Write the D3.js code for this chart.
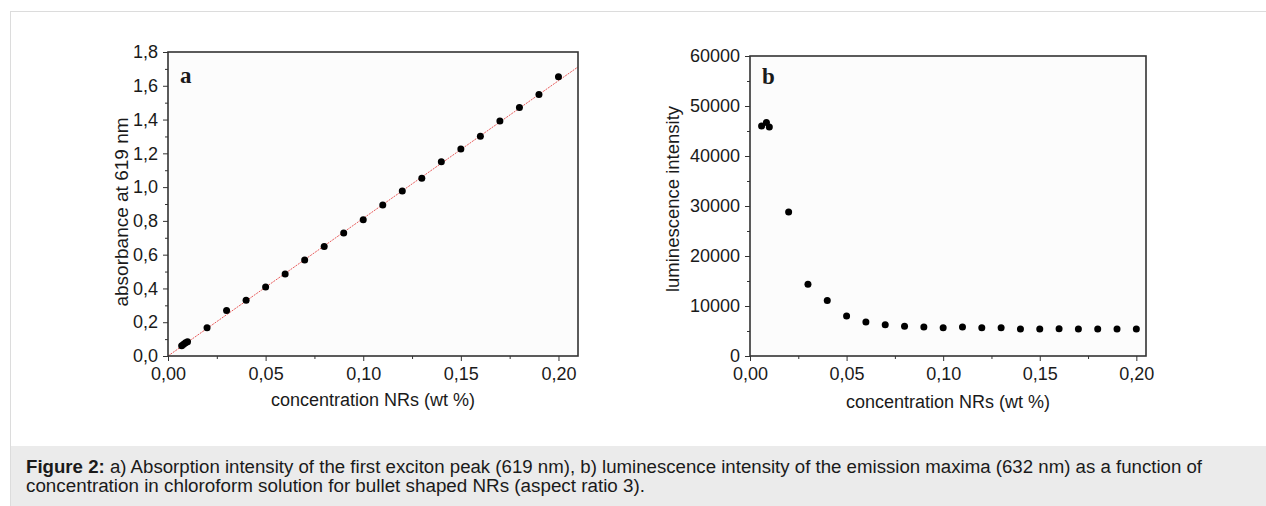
<!DOCTYPE html>
<html>
<head>
<meta charset="utf-8">
<script src="https://cdn.jsdelivr.net/npm/d3@7"></script>
<style>
  body { margin: 0; background: #fff; font-family: "Liberation Sans", Arial, sans-serif; }
  svg text { font-family: "Liberation Sans", Arial, sans-serif; fill: #1a1a1a; }
  .tick line { stroke: #333; }
</style>
</head>
<body>
<svg id="fig" width="1266" height="506"></svg>
<script>
// panel a: absorbance vs concentration
const concA = [0.007, 0.008, 0.009, 0.010, 0.02, 0.03, 0.04, 0.05, 0.06, 0.07, 0.08, 0.09, 0.10,
               0.11, 0.12, 0.13, 0.14, 0.15, 0.16, 0.17, 0.18, 0.19, 0.20];
const absorbance = [0.061, 0.07, 0.078, 0.085, 0.168, 0.27, 0.33, 0.408, 0.486, 0.568, 0.649, 0.728, 0.807,
                    0.894, 0.977, 1.052, 1.150, 1.226, 1.301, 1.391, 1.472, 1.549, 1.654];
const fitSlope = 8.15; // linear fit through origin

// panel b: luminescence vs concentration
const concB = [0.006, 0.0085, 0.010, 0.02, 0.03, 0.04, 0.05, 0.06, 0.07, 0.08, 0.09, 0.10,
               0.11, 0.12, 0.13, 0.14, 0.15, 0.16, 0.17, 0.18, 0.19, 0.20];
const luminescence = [46000, 46700, 45800, 28800, 14340, 11080, 8000, 6800, 6270, 5940, 5800, 5670,
                      5800, 5670, 5670, 5400, 5400, 5450, 5400, 5400, 5400, 5400];

const xTicks = [0, 0.05, 0.10, 0.15, 0.20];
const yTicksA = [0, 0.2, 0.4, 0.6, 0.8, 1.0, 1.2, 1.4, 1.6, 1.8];
const yTicksB = [0, 10000, 20000, 30000, 40000, 50000, 60000];

const captionBold = "Figure 2:";
const captionLines = [
  " a) Absorption intensity of the first exciton peak (619 nm), b) luminescence intensity of the emission maxima (632 nm) as a function of",
  "concentration in chloroform solution for bullet shaped NRs (aspect ratio 3)."
];

const svg = d3.select("#fig");

// page frame and caption band
svg.append("rect").attr("x", 10.5).attr("y", 11.5).attr("width", 1300).attr("height", 520)
  .attr("fill", "#fff").attr("stroke", "#dcdcdc");
svg.append("rect").attr("x", 11).attr("y", 446).attr("width", 1260).attr("height", 70)
  .attr("fill", "#ebebeb");

const cap = svg.append("text").attr("x", 26).attr("y", 473).style("font-size", "18px")
  .attr("textLength", 1176).attr("lengthAdjust", "spacingAndGlyphs");
cap.append("tspan").style("font-weight", "bold").text(captionBold);
cap.append("tspan").text(captionLines[0]);
svg.append("text").attr("x", 26).attr("y", 492).style("font-size", "18px")
  .attr("textLength", 619).attr("lengthAdjust", "spacingAndGlyphs")
  .text(captionLines[1]);

const comma = (f) => (d) => d3.format(f)(d).replace(".", ",");

function renderPanel(opt) {
  const { left, top, right, bottom } = opt.box;
  const width = right - left, height = bottom - top;
  const g = svg.append("g").attr("transform", `translate(${left},${top})`);

  const x = d3.scaleLinear().domain(opt.xDomain).range([0, width]);
  const y = d3.scaleLinear().domain(opt.yDomain).range([height, 0]);

  g.append("rect").attr("width", width).attr("height", height).attr("fill", "#fcfcfc");

  // minor ticks
  g.append("g").attr("transform", `translate(0,${height})`)
    .call(d3.axisBottom(x).tickValues(opt.xMinor).tickSize(3).tickFormat(""))
    .call(s => s.select(".domain").remove());
  g.append("g")
    .call(d3.axisLeft(y).tickValues(opt.yMinor).tickSize(3).tickFormat(""))
    .call(s => s.select(".domain").remove());

  // major ticks
  g.append("g").attr("transform", `translate(0,${height})`)
    .call(d3.axisBottom(x).tickValues(xTicks).tickSize(5).tickPadding(6).tickFormat(comma(".2f")))
    .call(s => s.select(".domain").remove())
    .call(s => s.selectAll("text").style("font-size", "18px"));
  g.append("g")
    .call(d3.axisLeft(y).tickValues(opt.yTicks).tickSize(5).tickPadding(5).tickFormat(opt.yFormat))
    .call(s => s.select(".domain").remove())
    .call(s => s.selectAll("text").style("font-size", "18px"));

  if (opt.fit) {
    g.append("line")
      .attr("x1", x(0)).attr("y1", y(0))
      .attr("x2", x(opt.xDomain[1])).attr("y2", y(opt.fit * opt.xDomain[1]))
      .attr("stroke", "#e85a5a").attr("stroke-width", 1).attr("stroke-dasharray", "2,1");
  }

  g.append("g").selectAll("circle")
    .data(opt.xs.map((v, i) => [v, opt.ys[i]]))
    .join("circle")
    .attr("cx", d => x(d[0]))
    .attr("cy", d => y(d[1]))
    .attr("r", 3.5)
    .attr("fill", "#000");

  // frame
  g.append("rect").attr("width", width).attr("height", height)
    .attr("fill", "none").attr("stroke", "#333").attr("stroke-width", 1.6);

  g.append("text").attr("x", opt.letterPos[0]).attr("y", opt.letterPos[1])
    .style("font-family", "'Liberation Serif', 'Times New Roman', serif")
    .style("font-weight", "bold").style("font-size", "23px").text(opt.letter);

  g.append("text").attr("x", width / 2).attr("y", height + opt.xTitleDy)
    .attr("text-anchor", "middle").style("font-size", "18px")
    .text("concentration NRs (wt %)");

  g.append("text")
    .attr("transform", `translate(${opt.yTitlePos[0]},${opt.yTitlePos[1]}) rotate(-90)`)
    .attr("text-anchor", "middle").style("font-size", opt.yTitleSize)
    .text(opt.yTitle);
}

renderPanel({
  box: { left: 168, top: 52, right: 578, bottom: 356 },
  xDomain: [0, 0.21], yDomain: [0, 1.8],
  xMinor: [0.025, 0.075, 0.125, 0.175],
  yMinor: [0.1, 0.3, 0.5, 0.7, 0.9, 1.1, 1.3, 1.5, 1.7],
  yTicks: yTicksA, yFormat: comma(".1f"),
  xs: concA, ys: absorbance, fit: fitSlope,
  letter: "a", letterPos: [12, 31], xTitleDy: 50,
  yTitle: "absorbance at 619 nm", yTitlePos: [-40, 160], yTitleSize: "19px"
});

renderPanel({
  box: { left: 750, top: 56, right: 1146, bottom: 356 },
  xDomain: [0, 0.205], yDomain: [0, 60000],
  xMinor: [0.025, 0.075, 0.125, 0.175],
  yMinor: [5000, 15000, 25000, 35000, 45000, 55000],
  yTicks: yTicksB, yFormat: d3.format("d"),
  xs: concB, ys: luminescence, fit: null,
  letter: "b", letterPos: [12, 28], xTitleDy: 52,
  yTitle: "luminescence intensity", yTitlePos: [-71, 143], yTitleSize: "18.5px"
});
</script>
</body>
</html>
